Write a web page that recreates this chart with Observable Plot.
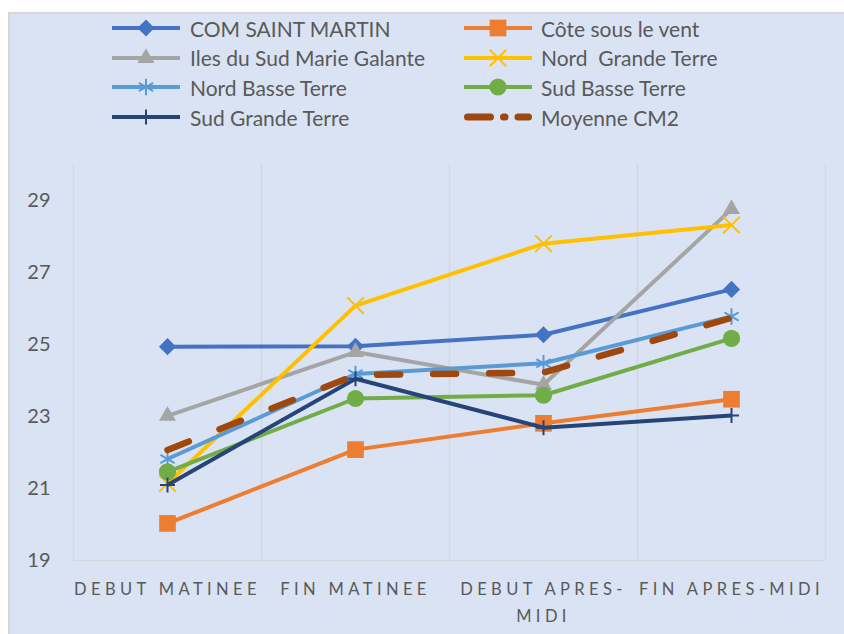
<!DOCTYPE html>
<html>
<head>
<meta charset="utf-8">
<script src="https://cdn.jsdelivr.net/npm/d3@7"></script>
<script src="https://cdn.jsdelivr.net/npm/@observablehq/plot@0.6"></script>
<style>
  html, body { margin: 0; padding: 0; background: #ffffff; }
  body { width: 844px; height: 634px; position: relative; overflow: hidden; font-family: Lato, "Open Sans", sans-serif; }
  #frame { position: absolute; left: 8px; top: 12px; width: 836px; height: 622px; background: #dae3f3;
           border-left: 2px solid #d6d6d6; border-top: 2px solid #d6d6d6; box-sizing: border-box; }
  #legend { position: absolute; left: 0; top: 0; width: 844px; height: 150px; }
  .item { position: absolute; height: 24px; display: flex; align-items: center; color: #595959; font-size: 21px; white-space: pre; }
  .item svg { overflow: visible; }
  #plot { position: absolute; left: 0; top: 150px; }
</style>
</head>
<body>
<div id="frame"></div>
<div id="legend"></div>
<div id="plot"></div>
<script>
// ---- data ----
const categories = ["DEBUT MATINEE", "FIN MATINEE", "DEBUT APRES-MIDI", "FIN APRES-MIDI"];
const tickLabels = ["DEBUT MATINEE", "FIN MATINEE", "DEBUT APRES-\nMIDI", "FIN APRES-MIDI"];
const seriesNames = ["COM SAINT MARTIN", "Côte sous le vent", "Iles du Sud Marie Galante", "Nord  Grande Terre",
                     "Nord Basse Terre", "Sud Basse Terre", "Sud Grande Terre", "Moyenne CM2"];
const comSaintMartin   = [24.94, 24.95, 25.27, 26.53];
const coteSousLeVent   = [20.03, 22.08, 22.81, 23.48];
const ilesDuSud        = [23.02, 24.79, 23.88, 28.76];
const nordGrandeTerre  = [21.14, 26.08, 27.80, 28.32];
const nordBasseTerre   = [21.82, 24.18, 24.48, 25.78];
const sudBasseTerre    = [21.46, 23.50, 23.59, 25.17];
const sudGrandeTerre   = [21.10, 24.05, 22.69, 23.03];
const moyenneCM2       = [22.07, 24.15, 24.22, 25.74];
const seriesValues = [comSaintMartin, coteSousLeVent, ilesDuSud, nordGrandeTerre, nordBasseTerre, sudBasseTerre, sudGrandeTerre, moyenneCM2];
const yTicks = [19, 21, 23, 25, 27, 29];

// ---- styles ----
const colors = ["#4472c4", "#ed7d31", "#a5a5a5", "#ffc000", "#5b9bd5", "#70ad47", "#264478", "#9e480e"];
const markers = [
  {symbol: "diamond2", r: 7.7, filled: true},
  {symbol: "square", r: 9.4, filled: true},
  {symbol: "triangle", r: 6.3, filled: true},
  {symbol: "times", r: 7.6, filled: false},
  {symbol: "asterisk", r: 7.8, filled: false},
  {symbol: "circle", r: 8.6, filled: true},
  {symbol: "plus", r: 4.9, filled: false},
  null
];

const rows = seriesNames.flatMap((name, i) =>
  seriesValues[i].map((v, j) => ({series: name, period: j, value: v})));

const boundaries = d3.range(categories.length + 1).map(i => i - 0.5);

const marks = [
  Plot.ruleX(boundaries, {stroke: "#d3d7de", strokeWidth: 1.5}),
  Plot.ruleY([19], {stroke: "#d3d7de", strokeWidth: 1.5}),
  Plot.axisY({ticks: yTicks, tickSize: 0, tickPadding: 23, fontSize: 20, label: null}),
  Plot.axisX({ticks: d3.range(categories.length), tickFormat: i => tickLabels[i], tickSize: 0, tickPadding: 15,
              fontSize: 16.5, lineHeight: 1.65, label: null})
];
seriesNames.forEach((name, i) => {
  const sub = rows.filter(d => d.series === name);
  const isMean = i === seriesNames.length - 1;
  marks.push(Plot.line(sub, {
    x: "period", y: "value", stroke: "series",
    strokeWidth: isMean ? 6.5 : 4,
    strokeDasharray: isMean ? "23,33" : null,
    strokeLinecap: isMean ? "round" : "butt",
    strokeLinejoin: "round"
  }));
  const m = markers[i];
  if (m) {
    marks.push(Plot.dot(sub, m.filled
      ? {x: "period", y: "value", symbol: () => m.symbol, r: m.r, fill: "series", stroke: "none"}
      : {x: "period", y: "value", symbol: () => m.symbol, r: m.r, fill: "none", stroke: "series", strokeWidth: 2}));
  }
});

const chart = Plot.plot({
  width: 844, height: 484,
  marginLeft: 73, marginRight: 19, marginTop: 14, marginBottom: 74,
  style: {background: "transparent", color: "#595959", fontFamily: "Lato, 'Open Sans', sans-serif", overflow: "visible"},
  x: {domain: [-0.5, categories.length - 0.5], axis: null},
  y: {domain: [19, 30], axis: null},
  color: {domain: seriesNames, range: colors},
  symbol: {domain: ["diamond2","square","triangle","times","asterisk","circle","plus"], range: ["diamond2","square","triangle","times","asterisk","circle","plus"]},
  marks
});
document.getElementById("plot").appendChild(chart);
d3.select(chart).selectAll("[aria-label='x-axis tick label'] text").style("letter-spacing", "4.4px");

// ---- legend ----
const legend = d3.select("#legend");
const colSwatch = [112, 464];
const colText = [190, 541];
const swW = 68;
seriesNames.forEach((name, i) => {
  const col = i % 2, row = Math.floor(i / 2);
  const cy = 28 + row * 29.7;
  const item = legend.append("div").attr("class", "item")
    .style("left", colSwatch[col] + "px").style("top", (cy - 12) + "px");
  const svg = item.append("svg").attr("width", colText[col] - colSwatch[col]).attr("height", 24);
  const isMean = i === seriesNames.length - 1;
  svg.append("line").attr("x1", isMean ? 3.5 : 0).attr("x2", swW - (isMean ? 3.5 : 0)).attr("y1", 12).attr("y2", 12)
    .attr("stroke", colors[i]).attr("stroke-width", isMean ? 7 : 4)
    .attr("stroke-linecap", isMean ? "round" : "butt")
    .attr("stroke-dasharray", isMean ? "23,13,1.5,13" : null);
  const m = markers[i];
  if (m) {
    const symMap = {diamond2: d3.symbolDiamond2, square: d3.symbolSquare, triangle: d3.symbolTriangle,
                    times: d3.symbolTimes, asterisk: d3.symbolAsterisk, circle: d3.symbolCircle, plus: d3.symbolPlus};
    const path = d3.symbol(symMap[m.symbol], m.r * m.r * Math.PI)();
    svg.append("path").attr("d", path).attr("transform", `translate(${swW / 2},12)`)
      .attr("fill", m.filled ? colors[i] : "none").attr("stroke", m.filled ? "none" : colors[i]).attr("stroke-width", 2);
  }
  item.append("span").text(name);
});
</script>
</body>
</html>
